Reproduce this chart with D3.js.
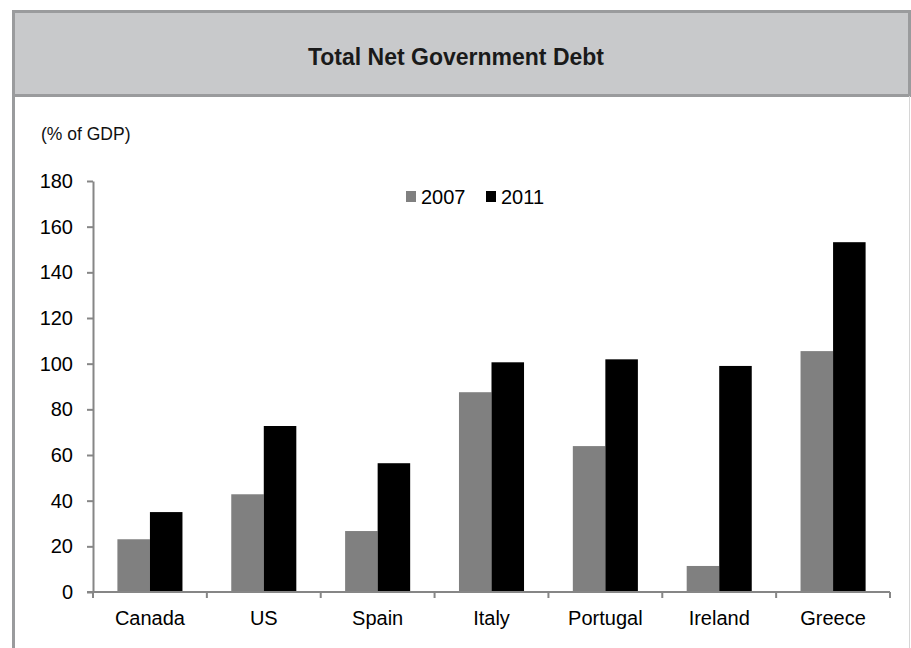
<!DOCTYPE html>
<html>
<head>
<meta charset="utf-8">
<script src="https://cdn.jsdelivr.net/npm/d3@7"></script>
<style>
  html, body { margin: 0; padding: 0; background: #fff; }
  svg { display: block; font-family: "Liberation Sans", Arial, sans-serif; }
</style>
</head>
<body>
<svg id="chart" width="911" height="648"></svg>
<script>
// Total net government debt, % of GDP
const categories = ["Canada", "US", "Spain", "Italy", "Portugal", "Ireland", "Greece"];
const seriesNames = ["2007", "2011"];
const values2007 = [23.1, 42.8, 26.7, 87.5, 63.9, 11.4, 105.5];
const values2011 = [35.0, 72.7, 56.4, 100.6, 101.9, 99.0, 153.2];
const yTicks = [0, 20, 40, 60, 80, 100, 120, 140, 160, 180];
const seriesColors = ["#808080", "#000000"];

const svg = d3.select("#chart");

// Frame and title banner
svg.append("rect").attr("x", 13.5).attr("y", 11.5).attr("width", 896).attr("height", 84)
  .attr("fill", "#c8c9cb").attr("stroke", "#9a9b9d").attr("stroke-width", 3);
svg.append("line").attr("x1", 13.5).attr("x2", 13.5).attr("y1", 10).attr("y2", 648)
  .attr("stroke", "#9a9b9d").attr("stroke-width", 3);
svg.append("line").attr("x1", 909.5).attr("x2", 909.5).attr("y1", 96).attr("y2", 648)
  .attr("stroke", "#d6d6d6").attr("stroke-width", 1);

svg.append("text").attr("x", 456).attr("y", 65).attr("text-anchor", "middle")
  .attr("font-size", 23).attr("font-weight", "bold").attr("fill", "#1a1a1a")
  .text("Total Net Government Debt");

svg.append("text").attr("x", 41).attr("y", 140).attr("font-size", 17.5).attr("fill", "#111")
  .text("(% of GDP)");

// Scales
const x0 = d3.scaleBand().domain(categories).range([93, 890]).padding(0);
const x1 = d3.scaleBand().domain(seriesNames).range([0, x0.bandwidth()])
  .paddingInner(0).paddingOuter(0.75);
const y = d3.scaleLinear().domain([0, 180]).range([592, 181]);
const color = d3.scaleOrdinal().domain(seriesNames).range(seriesColors);

const rows = categories.map((c, i) => ({ cat: c, vals: [
  { key: "2007", v: values2007[i] },
  { key: "2011", v: values2011[i] }
]}));

// Bars
const groups = svg.append("g").selectAll("g").data(rows).join("g")
  .attr("transform", d => `translate(${x0(d.cat)},0)`);
groups.selectAll("rect").data(d => d.vals).join("rect")
  .attr("x", d => x1(d.key))
  .attr("y", d => y(d.v))
  .attr("width", x1.bandwidth())
  .attr("height", d => y(0) - y(d.v))
  .attr("fill", d => color(d.key));

// Y axis
const yAxis = svg.append("g").attr("transform", "translate(93,0)")
  .call(d3.axisLeft(y).tickValues(yTicks).tickSize(6).tickPadding(14).tickSizeOuter(0));
yAxis.select(".domain").attr("stroke", "#868686").attr("stroke-width", 2);
yAxis.selectAll(".tick line").attr("stroke", "#868686").attr("stroke-width", 2);
yAxis.selectAll(".tick text").attr("font-size", 20).attr("fill", "#000")
  .attr("font-family", "Liberation Sans, Arial, sans-serif");

// X axis: baseline, boundary ticks, category labels
const xg = svg.append("g");
xg.append("line").attr("x1", 87).attr("x2", 890).attr("y1", 592).attr("y2", 592)
  .attr("stroke", "#868686").attr("stroke-width", 2);
const bounds = categories.map(c => x0(c)).concat([x0.range()[1]]);
xg.selectAll("line.b").data(bounds).join("line").attr("class", "b")
  .attr("x1", d => d).attr("x2", d => d).attr("y1", 592).attr("y2", 598)
  .attr("stroke", "#868686").attr("stroke-width", 2);
xg.selectAll("text").data(categories).join("text")
  .attr("x", d => x0(d) + x0.bandwidth() / 2).attr("y", 625)
  .attr("text-anchor", "middle").attr("font-size", 20).attr("fill", "#000")
  .text(d => d);

// Legend
const legend = svg.append("g");
const legX = [406, 486];
seriesNames.forEach((s, i) => {
  legend.append("rect").attr("x", legX[i]).attr("y", 191).attr("width", 10).attr("height", 11)
    .attr("fill", color(s));
  legend.append("text").attr("x", legX[i] + 15).attr("y", 204).attr("font-size", 20)
    .attr("fill", "#000").text(s);
});
</script>
</body>
</html>
